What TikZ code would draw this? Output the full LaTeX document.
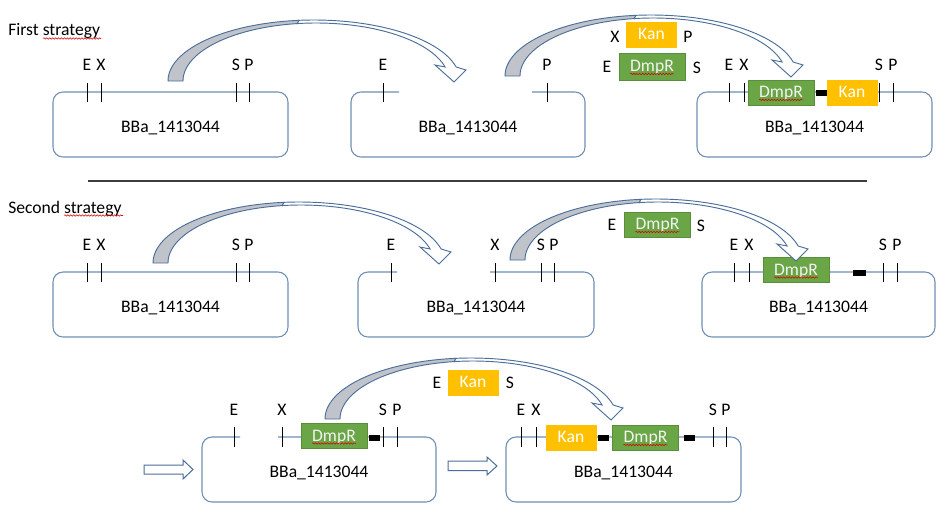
\documentclass[tikz,border=0pt]{standalone}
\usepackage{fontspec}
\setmainfont{Carlito}
\usetikzlibrary{decorations.pathmorphing}
\definecolor{boxline}{RGB}{110,142,180}
\definecolor{arrline}{RGB}{75,110,155}
\definecolor{arrgray}{RGB}{192,196,202}
\definecolor{dgreen}{RGB}{106,166,70}
\definecolor{kanor}{RGB}{255,192,0}
\definecolor{septone}{RGB}{60,60,60}
\tikzset{
  bbox/.style={draw=boxline, line width=0.8pt, rounded corners=7.5pt},
  tick/.style={draw=black, line width=0.75pt},
  lbl/.style={anchor=base, inner sep=0pt},
  gbox/.style={fill=dgreen, draw=dgreen!85!black, line width=0.3pt, text=white!95!black, minimum width=49.5pt, minimum height=18.75pt, inner sep=0pt, text height=8pt, text depth=0pt},
  kbox/.style={fill=kanor, draw=kanor, line width=0.3pt, text=white, minimum width=37.5pt, minimum height=18.75pt, inner sep=0pt, text height=8pt, text depth=0pt},
  linker/.style={fill=black},
  spell/.style={draw=red!85!black, line width=0.4pt, decorate, decoration={snake, amplitude=0.55pt, segment length=2.2pt}},
  arrback/.style={fill=arrgray, draw=arrline, line width=0.7pt},
  arrfront/.style={fill=white, draw=arrline, line width=0.7pt},
  openarr/.style={fill=white, draw=arrline, line width=0.75pt},
}
\newcommand\bendarrow[2]{%
  \begin{scope}[shift={(#1,#2)}]
    \filldraw[arrback] plot[domain=180:96,samples=40] ({146+146*cos(\x)},{-61*sin(\x)})
      -- plot[domain=98:180,samples=40] ({148+133*cos(\x)},{-58*sin(\x)}) -- cycle;
    \filldraw[arrfront] plot[domain=96:13.3,samples=50] ({146+146*cos(\x)},{-61*sin(\x)})
      -- (298,-11) -- (286,1) -- (267,-16)
      -- plot[domain=14:98,samples=50] ({148+133*cos(\x)},{-58*sin(\x)}) -- cycle;
  \end{scope}}
\newcommand\dmprnode[3]{%
  \node[gbox] (#1) at (#2,#3) {DmpR};
  \draw[spell] ([xshift=-16.5pt,yshift=-5.6pt]#1.center) -- ([xshift=16.5pt,yshift=-5.6pt]#1.center);}
\begin{document}
\begin{tikzpicture}[x=0.75pt,y=-0.75pt,font=\fontsize{13.2}{15}\selectfont]
\useasboundingbox (0,0) rectangle (945,514);
\fill[white] (0,0) rectangle (945,514);

% ---------------- titles ----------------
\node[lbl, anchor=base west] (title1) at (8,35) {First strategy};
\draw[spell] (43,38.5) -- (101,38.5);
\node[lbl, anchor=base west] (title2) at (8,213) {Second strategy};
\draw[spell] (64,215.5) -- (123,215.5);

% separator
\draw[draw=septone, line width=0.9pt] (88,181) -- (867,181);

% ================= ROW 1 =================
% box 1
\draw[bbox] (53,92) rectangle (288,157);
\node[lbl] (t11) at (170.5,132) {BBa\_1413044};
\foreach \xx/\tt/\nn in {87/E/a,101/X/b,236/S/c,249/P/d}{
  \draw[tick] (\xx,83) -- (\xx,102);
  \node[lbl] (r1b1\nn) at (\xx,70.5) {\tt};}
% box 2
\draw[bbox] (399,92) -- (351,92) -- (351,157) -- (585,157) -- (585,92) -- (532,92);
\node[lbl] (t12) at (468,132) {BBa\_1413044};
\foreach \xx/\tt/\nn in {383/E/a,547/P/b}{
  \draw[tick] (\xx,83) -- (\xx,102);
  \node[lbl] (r1b2\nn) at (\xx,70.5) {\tt};}
% box 3
\draw[bbox] (697,92) rectangle (932,157);
\node[lbl] (t13) at (814.5,132) {BBa\_1413044};
\foreach \xx/\tt/\nn in {729/E/a,744/X/b,879/S/c,893/P/d}{
  \draw[tick] (\xx,83) -- (\xx,102);
  \node[lbl] (r1b3\nn) at (\xx,70.5) {\tt};}
\dmprnode{r1d}{781}{92.5}
\fill[linker] (816,90) rectangle (827,96);
\node[kbox] (r1k) at (852,92.5) {Kan};
% floating inserts
\node[kbox] (r1fk) at (651.5,34.5) {Kan};
\node[lbl] (r1fx) at (615,42) {X};
\node[lbl] (r1fp) at (688,42) {P};
\node[gbox, minimum height=20.25pt] (r1fd) at (652,66.5) {DmpR};
\draw[spell] ([xshift=-16.5pt,yshift=-5.6pt]r1fd.center) -- ([xshift=16.5pt,yshift=-5.6pt]r1fd.center);
\node[lbl] (r1fe) at (607,72) {E};
\node[lbl] (r1fs) at (697,73) {S};
% arrows
\bendarrow{168}{81}
\bendarrow{505}{76}

% ================= ROW 2 =================
\draw[bbox] (53,272) rectangle (288,337);
\node[lbl] (t21) at (170.5,312) {BBa\_1413044};
\foreach \xx/\tt/\nn in {87/E/a,101/X/b,236/S/c,249/P/d}{
  \draw[tick] (\xx,263) -- (\xx,282);
  \node[lbl] (r2b1\nn) at (\xx,250) {\tt};}
\draw[bbox] (397,272) -- (358,272) -- (358,337) -- (594,337) -- (594,272) -- (490,272);
\node[lbl] (t22) at (476,312) {BBa\_1413044};
\foreach \xx/\tt/\nn in {391/E/a,495/X/b,541/S/c,554/P/d}{
  \draw[tick] (\xx,263) -- (\xx,282);
  \node[lbl] (r2b2\nn) at (\xx,250) {\tt};}
\draw[bbox] (702,272) rectangle (935,337);
\node[lbl] (t23) at (818.5,312) {BBa\_1413044};
\foreach \xx/\tt/\nn in {734/E/a,749/X/b,883/S/c,897/P/d}{
  \draw[tick] (\xx,263) -- (\xx,282);
  \node[lbl] (r2b3\nn) at (\xx,250) {\tt};}
\dmprnode{r2d}{796}{270}
\fill[linker] (853,269.5) rectangle (866,275.5);
% floating insert
\dmprnode{r2fd}{657.5}{224.5}
\node[lbl] (r2fe) at (612,230) {E};
\node[lbl] (r2fs) at (701,231) {S};
% arrows
\bendarrow{153}{263}
\bendarrow{510}{260}

% ================= ROW 3 =================
\draw[bbox] (240,437) -- (202,437) -- (202,502) -- (436,502) -- (436,437) -- (278,437);
\node[lbl] (t31) at (319,477) {BBa\_1413044};
\foreach \xx/\tt/\nn in {234/E/a,282/X/b,383/S/c,397/P/d}{
  \draw[tick] (\xx,427) -- (\xx,447);
  \node[lbl] (r3b1\nn) at (\xx,415) {\tt};}
\dmprnode{r3d}{334}{436}
\fill[linker] (369,435) rectangle (380,441);
\draw[bbox] (506,437) rectangle (741,502);
\node[lbl] (t32) at (623.5,477) {BBa\_1413044};
\foreach \xx/\tt/\nn in {521/E/a,536/X/b,713/S/c,726/P/d}{
  \draw[tick] (\xx,427) -- (\xx,447);
  \node[lbl] (r3b2\nn) at (\xx,415) {\tt};}
\node[kbox] (r3k) at (571,437.5) {Kan};
\fill[linker] (598,435) rectangle (609,441);
\dmprnode{r3d2}{645.5}{437.5}
\fill[linker] (684,435) rectangle (695,441);
% floating insert
\node[kbox] (r3fk) at (473,382.5) {Kan};
\node[lbl] (r3fe) at (437,388) {E};
\node[lbl] (r3fs) at (510,388) {S};
% bent arrow
\bendarrow{325}{419}
% open block arrows
\draw[openarr] (144,465) -- (183,465) -- (183,460) -- (193,469.5) -- (183,479) -- (183,474) -- (144,474) -- cycle;
\draw[openarr] (448,461) -- (487,461) -- (487,457) -- (497,466) -- (487,475) -- (487,470.5) -- (448,470.5) -- cycle;
\end{tikzpicture}
\end{document}
